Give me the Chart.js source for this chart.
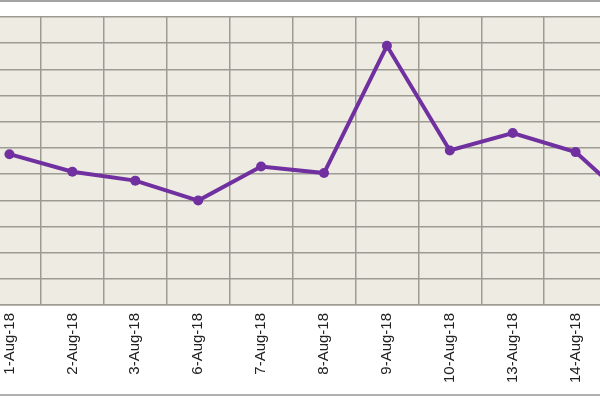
<!DOCTYPE html>
<html>
<head>
<meta charset="utf-8">
<script src="https://cdn.jsdelivr.net/npm/chart.js@4"></script>
<style>
    html, body { margin: 0; padding: 0; width: 600px; height: 400px; overflow: hidden; background: #ffffff; }
    #frame { position: absolute; left: 0; top: 0; width: 600px; height: 396px; border-top: 2px solid #a3a3a3; border-bottom: 2px solid #b0b0b0; box-sizing: border-box; }
    #wrap { position: absolute; left: -27px; top: 0; width: 702px; height: 400px; }
</style>
</head>
<body>
<div id="frame"></div>
<div id="wrap"><canvas id="lineChart"></canvas></div>
<script>
// Dates along the x axis (the last one is cut off at the right edge)
const dates = ['1-Aug-18', '2-Aug-18', '3-Aug-18', '6-Aug-18', '7-Aug-18', '8-Aug-18',
               '9-Aug-18', '10-Aug-18', '13-Aug-18', '14-Aug-18', '15-Aug-18'];

// Values, in gridline units (no y labels are visible)
const values = [5.76, 5.09, 4.75, 3.99, 5.29, 5.04, 9.9, 5.9, 6.57, 5.84, 3.66];

// y axis range and step, one gridline per step
const yMin = 0;
const yMax = 11;
const yStep = 1;

// Fill the plot area with the beige background
const plotBackground = {
    id: 'plotBackground',
    beforeDraw(chart) {
        const { ctx, chartArea } = chart;
        ctx.save();
        ctx.fillStyle = '#edebe2';
        ctx.fillRect(chartArea.left, chartArea.top, chartArea.right - chartArea.left, chartArea.bottom - chartArea.top);
        ctx.restore();
    }
};

const ctx = document.getElementById('lineChart').getContext('2d');

new Chart(ctx, {
    type: 'line',
    data: {
        labels: dates,
        datasets: [{
            data: values,
            borderColor: '#7030a0',
            backgroundColor: '#7030a0',
            borderWidth: 4,
            pointRadius: 5,
            pointBorderWidth: 0,
            tension: 0
        }]
    },
    options: {
        responsive: true,
        maintainAspectRatio: false,
        animation: false,
        layout: { padding: { top: 17, left: 0, right: 0, bottom: 0 } },
        plugins: {
            legend: { display: false },
            tooltip: { enabled: false }
        },
        scales: {
            x: {
                offset: true,
                grid: { offset: true, color: '#9e9b93', lineWidth: 1.5, drawTicks: false },
                border: { color: '#9e9b93', width: 1.5 },
                ticks: {
                    minRotation: 90,
                    maxRotation: 90,
                    padding: 8,
                    color: '#222222',
                    font: { family: 'Liberation Sans', size: 15 }
                },
                afterFit: (scale) => { scale.height = 95; }
            },
            y: {
                min: yMin,
                max: yMax,
                grid: { color: '#9e9b93', lineWidth: 1.5, drawTicks: false },
                border: { display: false },
                ticks: { display: false, stepSize: yStep },
                afterFit: (scale) => { scale.width = 0; }
            }
        }
    },
    plugins: [plotBackground]
});
</script>
</body>
</html>
